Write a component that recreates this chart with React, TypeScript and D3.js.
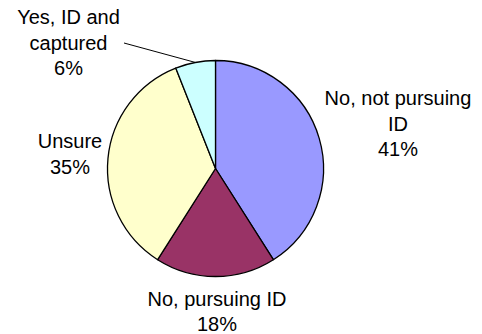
import React from "react";
import * as d3 from "d3";

// Survey answers, clockwise from 12 o'clock
const categories = ["No, not pursuing ID", "No, pursuing ID", "Unsure", "Yes, ID and captured"];
const values = [41, 18, 35, 6];
const labelLines = [["No, not pursuing", "ID"], ["No, pursuing ID"], ["Unsure"], ["Yes, ID and", "captured"]];
const colors = ["#9999FF", "#993366", "#FFFFCC", "#CCFFFF"];

const WIDTH = 482;
const HEIGHT = 334;
const CX = 215.5;
const CY = 168.5;
const RADIUS = 108;
const FONT_SIZE = 20;
const LINE_HEIGHT = 25.5;

// Label block placement relative to the pie centre (centre x, first baseline y)
const labelOffsets: [number, number][] = [
  [182.5, -63.5],
  [1.5, 137],
  [-145.5, -20.5],
  [-147, -144.5],
];

// Which labels need a leader line back to their slice (end of the line near the text)
const leaderStart: ([number, number] | null)[] = [null, null, null, [-91.5, -125.5]];

export default function App() {
  const pie = d3
    .pie<number>()
    .sort(null)
    .startAngle(0)
    .endAngle(2 * Math.PI)
    .value((d) => d);
  const arcs = pie(values);
  const arc = d3.arc<d3.PieArcDatum<number>>().innerRadius(0).outerRadius(RADIUS);
  const total = d3.sum(values);

  return (
    <svg
      width={WIDTH}
      height={HEIGHT}
      style={{ position: "absolute", left: 0, top: 0, background: "#fff" }}
    >
      <g transform={`translate(${CX},${CY})`}>
        {arcs.map((a, i) => (
          <path
            key={categories[i]}
            d={arc(a) || ""}
            fill={colors[i]}
            stroke="#000"
            strokeWidth={1.3}
            strokeLinejoin="round"
          />
        ))}
        {arcs.map((a, i) => {
          const start = leaderStart[i];
          if (!start) return null;
          const mid = (a.startAngle + a.endAngle) / 2;
          const ex = Math.sin(mid) * RADIUS;
          const ey = -Math.cos(mid) * RADIUS;
          return (
            <line
              key={"leader-" + i}
              x1={start[0]}
              y1={start[1]}
              x2={ex}
              y2={ey}
              stroke="#000"
              strokeWidth={1}
            />
          );
        })}
        {arcs.map((a, i) => {
          const [lx, ly] = labelOffsets[i];
          const pct = Math.round((values[i] / total) * 100) + "%";
          const lines = [...labelLines[i], pct];
          return (
            <text
              key={"label-" + i}
              x={lx}
              y={ly}
              textAnchor="middle"
              fontFamily="'Liberation Sans', Arial, sans-serif"
              fontSize={FONT_SIZE}
              fill="#000"
            >
              {lines.map((t, j) => (
                <tspan key={j} x={lx} y={ly + j * LINE_HEIGHT}>
                  {t}
                </tspan>
              ))}
            </text>
          );
        })}
      </g>
    </svg>
  );
}
